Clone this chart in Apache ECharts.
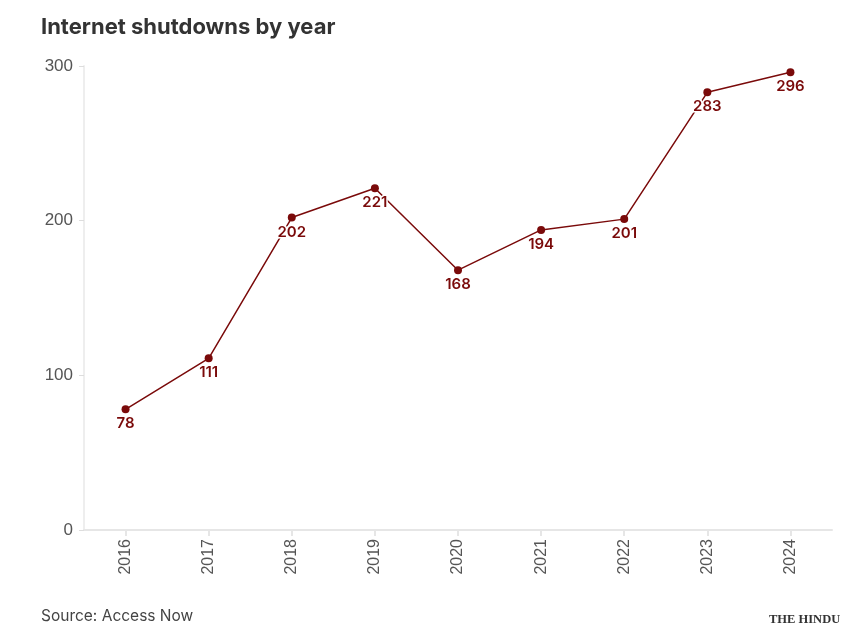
<!DOCTYPE html>
<html>
<head>
<meta charset="utf-8">
<script src="https://cdn.jsdelivr.net/npm/echarts@6/dist/echarts.min.js"></script>
<style>
html,body{margin:0;padding:0;background:#fff;}
#c{width:852px;height:637px;}
</style>
</head>
<body>
<div id="c"></div>
<script>
const years = ['2016','2017','2018','2019','2020','2021','2022','2023','2024'];
const shutdowns = [78, 111, 202, 221, 168, 194, 201, 283, 296];
const yTicks = [0, 100, 200, 300];

const chart = echarts.init(document.getElementById('c'));
chart.setOption({
  backgroundColor: '#ffffff',
  animation: false,
  title: {
    text: 'Internet shutdowns by year',
    left: 36, top: 11,
    textStyle: {fontFamily: 'Inter', fontSize: 22, fontWeight: 'bold', color: '#333333'}
  },
  graphic: [
    {type: 'text', left: 41, top: 608,
     style: {text: 'Source: Access Now', fontFamily: 'Inter', fontSize: 15.5, fill: '#444444'}},
    {type: 'text', left: 769, top: 613,
     style: {text: 'THE HINDU', fontFamily: 'Liberation Serif', fontSize: 12.5, fontWeight: 'bold', fill: '#333333'}}
  ],
  grid: {left: 84, right: 20, top: 66, bottom: 107, containLabel: false},
  xAxis: {
    type: 'category',
    data: years,
    boundaryGap: true,
    axisLine: {show: true, lineStyle: {color: '#e6e6e6', width: 2}},
    axisTick: {show: true, alignWithLabel: true, length: 6, lineStyle: {color: '#e6e6e6', width: 2}},
    axisLabel: {rotate: 90, margin: 9, fontFamily: 'Liberation Sans', fontSize: 16, color: '#555555'},
    splitLine: {show: false}
  },
  yAxis: {
    type: 'value',
    min: 0, max: 300, interval: 100,
    axisLine: {show: true, lineStyle: {color: '#eeeeee', width: 2}},
    axisTick: {show: true, length: 5, lineStyle: {color: '#dddddd'}},
    axisLabel: {margin: 11, fontFamily: 'Liberation Sans', fontSize: 17, color: '#555555',
      formatter: v => yTicks.includes(v) ? String(v) : ''},
    splitLine: {show: false}
  },
  series: [{
    type: 'line',
    data: shutdowns,
    symbol: 'circle',
    symbolSize: 8,
    lineStyle: {color: '#7a0a0a', width: 1.5},
    itemStyle: {color: '#7a0a0a'},
    label: {
      show: true, position: 'bottom', distance: 3,
      fontFamily: 'Inter', fontSize: 15, fontWeight: 600, color: '#7a0a0a',
      textBorderColor: '#ffffff', textBorderWidth: 3
    }
  }]
});
</script>
</body>
</html>
